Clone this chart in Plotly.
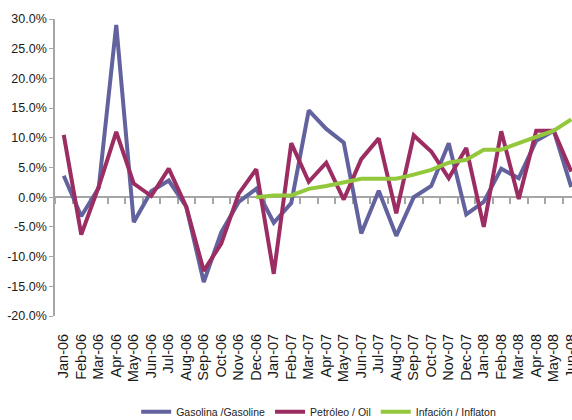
import plotly.graph_objects as go

# Monthly categories, Jan-06 .. Jun-08
months = [
    "Jan-06", "Feb-06", "Mar-06", "Apr-06", "May-06", "Jun-06", "Jul-06", "Aug-06",
    "Sep-06", "Oct-06", "Nov-06", "Dec-06", "Jan-07", "Feb-07", "Mar-07", "Apr-07",
    "May-07", "Jun-07", "Jul-07", "Aug-07", "Sep-07", "Oct-07", "Nov-07", "Dec-07",
    "Jan-08", "Feb-08", "Mar-08", "Apr-08", "May-08", "Jun-08",
]

# Monthly change, in percent
gasolina = [
    3.6, -3.2, 1.6, 29.0, -4.2, 1.0, 2.8, -1.6, -14.3, -5.9, -0.8, 1.4,
    -4.3, -1.0, 14.6, 11.5, 9.2, -6.1, 1.1, -6.5, 0.0, 1.9, 9.1, -2.9,
    -0.8, 4.8, 3.2, 9.5, 11.2, 1.7,
]
petroleo = [
    10.5, -6.3, 1.8, 11.0, 2.3, 0.2, 4.8, -1.6, -12.4, -7.8, 0.6, 4.7,
    -12.9, 9.1, 2.6, 5.8, -0.4, 6.4, 9.9, -2.7, 10.4, 7.7, 3.2, 8.3,
    -5.0, 11.1, -0.3, 11.2, 11.2, 4.3,
]
inflacion = [
    None, None, None, None, None, None, None, None, None, None, None, 0.0,
    0.3, 0.3, 1.4, 1.9, 2.5, 3.1, 3.1, 3.1, 3.8, 4.6, 5.8, 6.3,
    8.0, 8.0, 9.1, 10.1, 11.2, 13.1,
]

series_names = ["Gasolina /Gasoline", "Petróleo / Oil", "Infación / Inflaton"]
series_colors = ["#62629E", "#9B2D62", "#94C83C"]

y_ticks = [-20, -15, -10, -5, 0, 5, 10, 15, 20, 25, 30]

regular = "Liberation Sans, Arial, sans-serif"

fig = go.Figure()

for name, values, color in zip(series_names, [gasolina, petroleo, inflacion], series_colors):
    fig.add_trace(go.Scatter(
        x=months, y=values, name=name, mode="lines",
        line=dict(color=color, width=4),
        connectgaps=False,
    ))

# Helper trace that carries the category axis drawn along the zero line
fig.add_trace(go.Scatter(
    x=[0], y=[0], xaxis="x2", mode="none", showlegend=False, hoverinfo="skip",
))

n = len(months)
x_hi = 29.043

fig.update_layout(
    width=572, height=420,
    margin=dict(l=55, r=0, t=19, b=104, autoexpand=False),
    paper_bgcolor="white", plot_bgcolor="white",
    showlegend=True,
    legend=dict(
        orientation="h", x=0.51, xanchor="center", y=-0.322, yanchor="middle",
        font=dict(family=regular, size=10.5, color="#222222"),
        itemwidth=30, tracegroupgap=0,
        bgcolor="rgba(0,0,0,0)",
    ),
    xaxis=dict(
        type="category", categoryorder="array", categoryarray=months,
        range=[-0.5, x_hi], tickmode="linear", tick0=0, dtick=1,
        showgrid=False, zeroline=False, showline=False, ticks="",
        tickangle=-90, ticklabelstandoff=14,
        tickfont=dict(family=regular, size=14.5, color="#1a1a1a"),
    ),
    xaxis2=dict(
        overlaying="x", anchor="free", position=0.4,
        range=[-0.5, x_hi],
        tickmode="array", tickvals=[k + 0.5 for k in range(-1, n)],
        showticklabels=False, showgrid=False, zeroline=False,
        showline=True, linecolor="#A6A6A6", linewidth=2,
        ticks="outside", ticklen=6, tickwidth=1.5, tickcolor="#A6A6A6",
        layer="below traces",
    ),
    yaxis=dict(
        range=[-20, 30], tickmode="array", tickvals=y_ticks,
        ticktext=[f"{v:.1f}%" for v in y_ticks],
        showgrid=False, zeroline=False,
        showline=True, linecolor="#A6A6A6", linewidth=1.5,
        ticks="outside", ticklen=4, tickcolor="#A6A6A6",
        tickfont=dict(family=regular, size=12.5, color="#1a1a1a"),
    ),
)

fig.write_html("out.html")
